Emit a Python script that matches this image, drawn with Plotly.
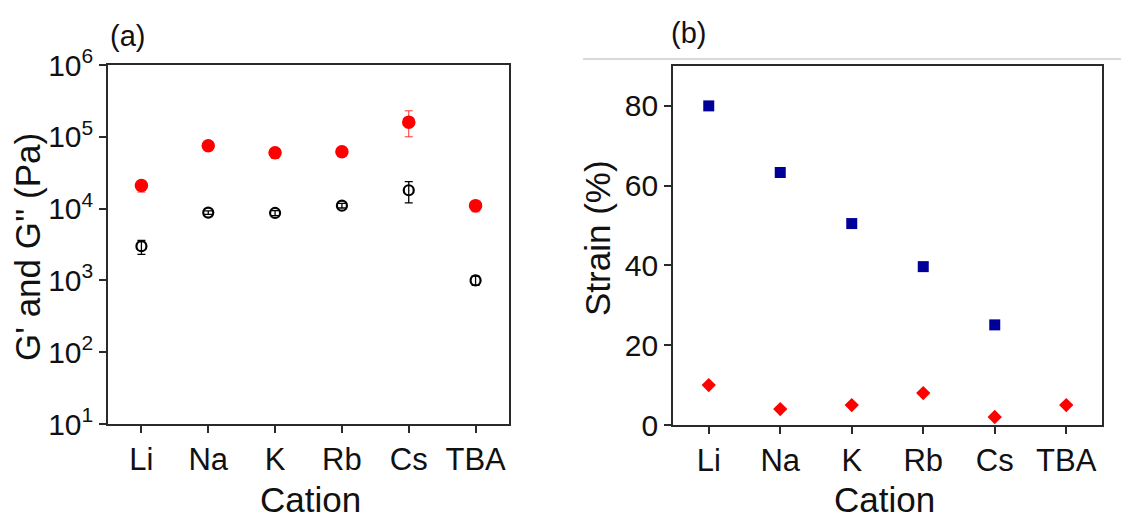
import plotly.graph_objects as go

# Cations on both panels
cations = ["Li", "Na", "K", "Rb", "Cs", "TBA"]

# Panel (a): storage (G') and loss (G'') moduli in Pa, with asymmetric error bars
g_storage = [2.1e4, 7.5e4, 6.0e4, 6.2e4, 1.6e5, 1.1e4]
g_storage_err_plus = [3.5e3, 5e3, 6e3, 4e3, 7e4, 1.5e3]
g_storage_err_minus = [4e3, 5e3, 1.0e4, 4e3, 6e4, 2e3]

g_loss = [3.0e3, 8.8e3, 8.7e3, 1.1e4, 1.8e4, 1.0e3]
g_loss_err_plus = [6e2, 5e2, 7e2, 8e2, 5.7e3, 1.5e2]
g_loss_err_minus = [7e2, 5e2, 7e2, 8e2, 6e3, 1.5e2]

# Panel (b): strain (%) per cation
strain_upper = [80, 63.3, 50.5, 39.7, 25.1, None]
strain_lower = [10, 4, 5, 8, 2, 5]

log_tickvals = [1e1, 1e2, 1e3, 1e4, 1e5, 1e6]
log_ticktext = ["10<sup>1</sup>", "10<sup>2</sup>", "10<sup>3</sup>",
                "10<sup>4</sup>", "10<sup>5</sup>", "10<sup>6</sup>"]
strain_ticks = [0, 20, 40, 60, 80]

W, H = 1121, 520
FONT = "Liberation Sans, Arial, sans-serif"
INK = "#111111"
AXIS = "#2a2a2a"


def px_x(x):
    return x / W


def px_y(y):
    return 1 - y / H


fig = go.Figure()

fig.add_trace(go.Scatter(
    x=cations, y=g_storage, mode="markers", name="G'",
    marker=dict(symbol="circle", size=13.5, color="#ff0000"),
    error_y=dict(type="data", symmetric=False, array=g_storage_err_plus,
                 arrayminus=g_storage_err_minus, color="#ff3030",
                 thickness=1, width=4),
    xaxis="x", yaxis="y",
))
fig.add_trace(go.Scatter(
    x=cations, y=g_loss, mode="markers", name="G''",
    marker=dict(symbol="circle-open", size=10, color="#000000",
                line=dict(width=2.2, color="#000000")),
    error_y=dict(type="data", symmetric=False, array=g_loss_err_plus,
                 arrayminus=g_loss_err_minus, color="#000000",
                 thickness=1.3, width=4),
    xaxis="x", yaxis="y",
))

fig.add_trace(go.Scatter(
    x=cations, y=strain_upper, mode="markers", name="upper",
    marker=dict(symbol="square", size=11, color="#000099"),
    xaxis="x2", yaxis="y2",
))
fig.add_trace(go.Scatter(
    x=cations, y=strain_lower, mode="markers", name="lower",
    marker=dict(symbol="diamond", size=11, color="#ff0000"),
    xaxis="x2", yaxis="y2",
))

common_axis = dict(
    showline=True, linecolor=AXIS, linewidth=1.6, mirror=True,
    ticks="outside", ticklen=7, tickwidth=1.5, tickcolor=AXIS,
    showgrid=False, zeroline=False, automargin=False,
    tickfont=dict(family=FONT, size=30, color=INK),
)
x_tickfont = dict(family=FONT, size=31, color=INK)

fig.update_layout(
    template="none",
    width=W, height=H,
    margin=dict(l=0, r=0, t=0, b=0, pad=0),
    paper_bgcolor="white", plot_bgcolor="white",
    showlegend=False,
    font=dict(family=FONT, color=INK),
    xaxis=dict(domain=[px_x(108), px_x(509)], anchor="y",
               type="category", range=[-0.5, 5.5],
               **{**common_axis, "tickfont": x_tickfont}),
    yaxis=dict(domain=[px_y(424), px_y(65)], anchor="x",
               type="log", range=[1, 6],
               tickvals=log_tickvals, ticktext=log_ticktext,
               **common_axis),
    xaxis2=dict(domain=[px_x(673), px_x(1102)], anchor="y2",
                type="category", range=[-0.5, 5.5],
                **{**common_axis, "tickfont": x_tickfont}),
    yaxis2=dict(domain=[px_y(425), px_y(66)], anchor="x2",
                range=[0, 90], tickvals=strain_ticks,
                **common_axis),
)

title_font = dict(family=FONT, size=35, color=INK)
label_font = dict(family=FONT, size=29, color=INK)

annotations = [
    dict(text="Cation", x=px_x(310), y=0, yanchor="bottom", font=title_font),
    dict(text="Cation", x=px_x(884), y=0, yanchor="bottom", font=title_font),
    dict(text="G' and G'' (Pa)", x=px_x(27), y=px_y(247), textangle=-90, font=title_font),
    dict(text="Strain (%)", x=px_x(598), y=px_y(238), textangle=-90, font=title_font),
    dict(text="(a)", x=px_x(127), y=px_y(36), font=label_font),
    dict(text="(b)", x=px_x(688), y=px_y(33), font=label_font),
]
fig.update_layout(annotations=[
    dict({"xref": "paper", "yref": "paper", "showarrow": False,
          "xanchor": "center", "yanchor": "middle", "borderpad": 0}, **a)
    for a in annotations
])

# thin rule above panel (b)
fig.add_shape(type="line", xref="paper", yref="paper",
              x0=px_x(583), x1=1, y0=px_y(59), y1=px_y(59),
              line=dict(color="#b4b4b4", width=1))

fig.write_html("out.html")
